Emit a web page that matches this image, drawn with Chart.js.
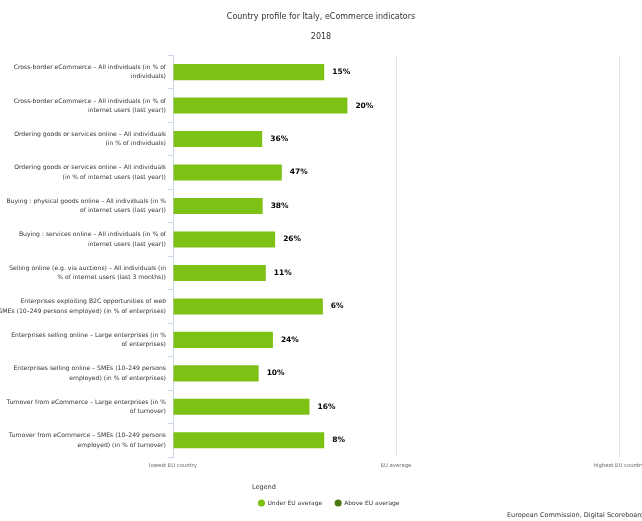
<!DOCTYPE html>
<html>
<head>
<meta charset="utf-8">
<script src="https://cdn.jsdelivr.net/npm/chart.js@4"></script>
<style>
  html, body { margin: 0; padding: 0; background: #fff; overflow: hidden; }
  #wrap { position: relative; width: 642px; height: 521px; }
  #footer {
    position: absolute; left: 507px; top: 512px; white-space: nowrap;
    font-family: "DejaVu Sans", sans-serif; font-size: 6.5px; line-height: 1; color: #333;
  }
</style>
</head>
<body>
<div id="wrap">
  <canvas id="chart" width="642" height="521"></canvas>
  <div id="footer">European Commission, Digital Scoreboard</div>
</div>
<script>
// indicator names (two lines each, like the original)
const categories = [
  ['Cross-border eCommerce – All individuals (in % of', 'individuals)'],
  ['Cross-border eCommerce – All individuals (in % of', 'internet users (last year))'],
  ['Ordering goods or services online – All individuals', '(in % of individuals)'],
  ['Ordering goods or services online – All individuals', '(in % of internet users (last year))'],
  ['Buying : physical goods online – All individuals (in %', 'of internet users (last year))'],
  ['Buying : services online – All individuals (in % of', 'internet users (last year))'],
  ['Selling online (e.g. via auctions) – All individuals (in', '% of internet users (last 3 months))'],
  ['Enterprises exploiting B2C opportunities of web', 'SMEs (10–249 persons employed) (in % of enterprises)'],
  ['Enterprises selling online – Large enterprises (in %', 'of enterprises)'],
  ['Enterprises selling online – SMEs (10–249 persons', 'employed) (in % of enterprises)'],
  ['Turnover from eCommerce – Large enterprises (in %', 'of turnover)'],
  ['Turnover from eCommerce – SMEs (10–249 persons', 'employed) (in % of turnover)']
];

// position between lowest EU country (0), EU average (50) and highest EU country (100)
const positions = [33.9, 39.1, 20.0, 24.4, 20.1, 22.9, 20.8, 33.6, 22.4, 19.2, 30.6, 33.9];

// the value printed next to each bar
const pctLabels = ['15%', '20%', '36%', '47%', '38%', '26%', '11%', '6%', '24%', '10%', '16%', '8%'];

const xTickLabels = ['lowest EU country', 'EU average', 'highest EU country'];
const legendLabels = ['Under EU average', 'Above EU average'];

const underColor = '#7cc114';
const aboveColor = '#4b7b0e';
const fontFamily = '"DejaVu Sans", sans-serif';

// draws the percentage text at the end of every bar
const valueLabels = {
  id: 'valueLabels',
  afterDatasetsDraw(chart) {
    const ctx = chart.ctx;
    const meta = chart.getDatasetMeta(0);
    ctx.save();
    ctx.font = 'bold 7.5px ' + fontFamily;
    ctx.fillStyle = '#000';
    ctx.textAlign = 'left';
    ctx.textBaseline = 'middle';
    meta.data.forEach(function (bar, i) {
      ctx.fillText(pctLabels[i], bar.x + 8, bar.y);
    });
    ctx.restore();
  }
};

// the legend sits a little right of centre in the original
const nudgeLegend = {
  id: 'nudgeLegend',
  afterLayout(chart) {
    chart.legend.left += 8;
    chart.legend.right += 8;
  }
};

new Chart(document.getElementById('chart'), {
  type: 'bar',
  data: {
    labels: categories,
    datasets: [{
      label: legendLabels[0],
      data: positions,
      backgroundColor: underColor,
      borderWidth: 0,
      categoryPercentage: 1,
      barPercentage: 0.48
    }]
  },
  options: {
    indexAxis: 'y',
    responsive: false,
    animation: false,
    layout: { padding: { top: 0, left: 0, right: 0, bottom: 5 } },
    scales: {
      x: {
        min: 0,
        max: 100,
        afterFit(scale) {
          scale.paddingLeft = 0;
          scale.paddingRight = 23;
        },
        ticks: {
          stepSize: 50,
          padding: 5,
          maxRotation: 0,
          color: '#666',
          font: { family: fontFamily, size: 5.3 },
          callback: function (value) {
            return xTickLabels[value / 50];
          }
        },
        grid: { color: '#e6e6e6', drawTicks: false },
        border: { display: false }
      },
      y: {
        afterFit(scale) {
          scale.width = 173;
          scale.paddingTop = 0;
          scale.paddingBottom = 0;
        },
        ticks: {
          padding: 2,
          autoSkip: false,
          color: '#333',
          font: { family: fontFamily, size: 6.1, lineHeight: 1.52 }
        },
        grid: { drawOnChartArea: false, drawTicks: true, tickLength: 5, color: '#ccd6eb' },
        border: { display: true, color: '#ccd6eb' }
      }
    },
    plugins: {
      title: {
        display: true,
        text: ['Country profile for Italy, eCommerce indicators', '2018'],
        color: '#333',
        font: { family: fontFamily, size: 8, weight: 'normal', lineHeight: 2.43 },
        padding: { top: 7.6, bottom: 8.9 }
      },
      legend: {
        display: true,
        position: 'bottom',
        align: 'center',
        title: {
          display: true,
          text: 'Legend',
          position: 'start',
          color: '#333',
          font: { family: fontFamily, size: 6.5 },
          padding: { top: 10.3, bottom: -4.5 }
        },
        labels: {
          usePointStyle: true,
          boxWidth: 6,
          boxHeight: 5,
          padding: 13,
          color: '#333',
          font: { family: fontFamily, size: 6 },
          generateLabels: function () {
            return [underColor, aboveColor].map(function (c, i) {
              return {
                text: legendLabels[i],
                fillStyle: c,
                strokeStyle: c,
                lineWidth: 0,
                pointStyle: 'circle',
                hidden: false,
                datasetIndex: 0
              };
            });
          }
        }
      },
      tooltip: { enabled: false }
    }
  },
  plugins: [valueLabels, nudgeLegend]
});
</script>
</body>
</html>
